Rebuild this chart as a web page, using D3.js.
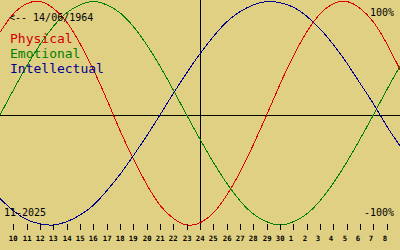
<!DOCTYPE html>
<html>
<head>
<meta charset="utf-8">
<script src="https://cdn.jsdelivr.net/npm/d3@7"></script>
<style>
  html, body { margin: 0; padding: 0; background: #e0d084; }
  svg { display: block; }
  text { font-family: "DejaVu Sans Mono", monospace; }
</style>
</head>
<body>
<div id="chart"></div>
<script>
const width = 400, height = 250;

// day labels, Nov 9 2025 .. Dec 9 2025 (first and last sit on the edges, unlabelled)
const days = [9, 10, 11, 12, 13, 14, 15, 16, 17, 18, 19, 20, 21, 22, 23, 24, 25, 26, 27, 28, 29, 30,
    1, 2, 3, 4, 5, 6, 7, 8, 9];

// values read per day, -1..1
const physical = [0.73, 0.89, 0.98, 1.00, 0.94, 0.82, 0.63, 0.40, 0.14, -0.14, -0.40, -0.63, -0.82,
    -0.94, -1.00, -0.98, -0.89, -0.73, -0.52, -0.27, 0.00, 0.27, 0.52, 0.73, 0.89, 0.98, 1.00,
    0.94, 0.82, 0.63, 0.40];
const emotional = [0.00, 0.22, 0.43, 0.62, 0.78, 0.90, 0.97, 1.00, 0.97, 0.90, 0.78, 0.62, 0.43,
    0.22, 0.00, -0.22, -0.43, -0.62, -0.78, -0.90, -0.97, -1.00, -0.97, -0.90, -0.78, -0.62,
    -0.43, -0.22, 0.00, 0.22, 0.43];
const intellectual = [-0.76, -0.87, -0.95, -0.99, -1.00, -0.97, -0.91, -0.82, -0.69, -0.54, -0.37,
    -0.19, 0.00, 0.19, 0.37, 0.54, 0.69, 0.82, 0.91, 0.97, 1.00, 0.99, 0.95, 0.87, 0.76, 0.62,
    0.46, 0.28, 0.10, -0.10, -0.28];

const series = [
    {name: "Physical", values: physical, color: "#e00000", text: "#d00000"},
    {name: "Emotional", values: emotional, color: "#008000", text: "#008000"},
    {name: "Intellectual", values: intellectual, color: "#000090", text: "#000090"}
];

const svg = d3.select("#chart").append("svg")
    .attr("width", width)
    .attr("height", height);

svg.append("rect").attr("width", width).attr("height", height).attr("fill", "#e0d084");

const x = d3.scaleLinear().domain([0, days.length - 1]).range([0, width]);
const y = d3.scaleLinear().domain([-1, 0, 1]).range([225, 115, 1.5]);

// zero line and "today" line
svg.append("line")
    .attr("x1", 0).attr("x2", width)
    .attr("y1", Math.round(y(0)) + 0.5).attr("y2", Math.round(y(0)) + 0.5)
    .attr("stroke", "#000").attr("stroke-width", 1);
svg.append("line")
    .attr("x1", x(15) + 0.5).attr("x2", x(15) + 0.5)
    .attr("y1", 0).attr("y2", 230)
    .attr("stroke", "#000").attr("stroke-width", 1);

const line = d3.line()
    .x((d, i) => x(i))
    .y(d => y(d))
    .curve(d3.curveNatural);

svg.append("g").selectAll("path")
    .data(series)
    .enter().append("path")
    .attr("d", d => line(d.values))
    .attr("fill", "none")
    .attr("stroke", d => d.color)
    .attr("stroke-width", 1)
    .attr("shape-rendering", "crispEdges");

// day ticks
const ticks = svg.append("g").selectAll("g")
    .data(days.slice(1, days.length - 1))
    .enter().append("g")
    .attr("transform", (d, i) => "translate(" + Math.round(x(i + 1)) + ",0)");

ticks.append("line")
    .attr("x1", 0.5).attr("x2", 0.5)
    .attr("y1", 224).attr("y2", 230)
    .attr("stroke", "#000");

ticks.append("text")
    .attr("x", -4.2).attr("y", 241)
    .attr("font-size", 7.3)
    .attr("font-weight", "bold")
    .attr("fill", "#000")
    .text(d => d);

// labels
svg.append("text").attr("x", 9).attr("y", 21)
    .attr("font-size", 10).attr("fill", "#000")
    .text("<-- 14/06/1964");

svg.selectAll(".legend")
    .data(series)
    .enter().append("text")
    .attr("class", "legend")
    .attr("x", 10)
    .attr("y", (d, i) => 43 + i * 15)
    .attr("font-size", 13)
    .attr("fill", d => d.text)
    .text(d => d.name);

svg.append("text").attr("x", 4).attr("y", 216)
    .attr("font-size", 10).attr("fill", "#000")
    .text("11-2025");

svg.append("text").attr("x", 394).attr("y", 16)
    .attr("font-size", 10).attr("fill", "#000")
    .attr("text-anchor", "end")
    .text("100%");

svg.append("text").attr("x", 394).attr("y", 216)
    .attr("font-size", 10).attr("fill", "#000")
    .attr("text-anchor", "end")
    .text("-100%");
</script>
</body>
</html>
